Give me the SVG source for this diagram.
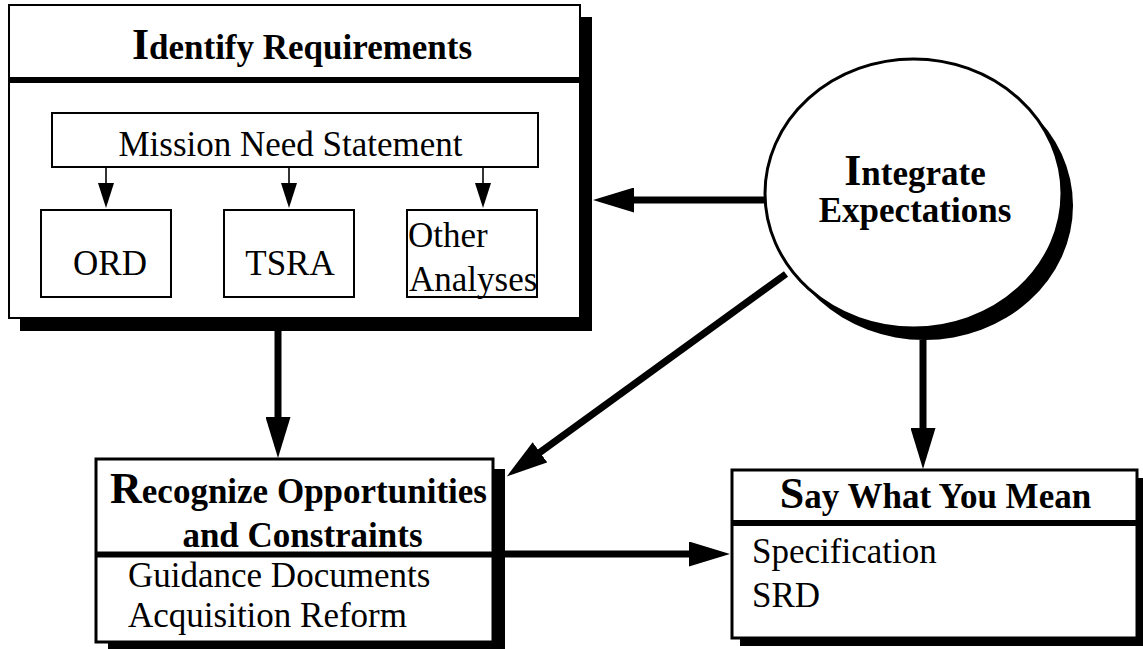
<svg xmlns="http://www.w3.org/2000/svg" width="1143" height="649" viewBox="0 0 1143 649">
<style>
.bg{fill:#fff}
.box{fill:#fff;stroke:#000}
.thin{stroke-width:2}
.thick{stroke-width:3}
.shadow{fill:#000}
.div{stroke:#000;stroke-width:6}
.t{font-family:"Liberation Serif","Times New Roman",serif;font-size:35px;fill:#000}
.b{font-weight:bold}
.big{font-size:44px}
.conn{stroke:#000;stroke-width:7;fill:none}
.small{stroke:#000;stroke-width:1.6;fill:none}
</style>
<defs>
<marker id="ah" markerUnits="userSpaceOnUse" markerWidth="42" markerHeight="25" viewBox="0 0 42 25" refX="1" refY="12.5" orient="auto">
<path d="M0,0 L41,12.5 L0,25 Z" fill="#000"/>
</marker>
<marker id="as" markerUnits="userSpaceOnUse" markerWidth="26" markerHeight="16" viewBox="0 0 26 16" refX="1" refY="8" orient="auto">
<path d="M0,0 L25,8 L0,16 Z" fill="#000"/>
</marker>
</defs>
<rect class="bg" x="0" y="0" width="1143" height="649"/>

<g id="identify">
<rect class="shadow" x="20" y="17" width="572" height="314"/>
<rect class="box thin" x="9" y="5" width="571" height="313"/>
<line class="div" x1="9" y1="80" x2="580" y2="80"/>
<text class="t b" x="302" y="59" text-anchor="middle"><tspan class="big">I</tspan>dentify Requirements</text>
</g>

<g id="mission">
<rect class="box thin" x="52" y="113" width="486" height="54"/>
<text class="t" x="290.5" y="156" text-anchor="middle">Mission Need Statement</text>
</g>

<g id="ord">
<rect class="box thin" x="41" y="210" width="130" height="87"/>
<text class="t" x="110" y="275" text-anchor="middle">ORD</text>
</g>

<g id="tsra">
<rect class="box thin" x="224" y="210" width="130" height="87"/>
<text class="t" x="290" y="275" text-anchor="middle">TSRA</text>
</g>

<g id="other">
<rect class="box thin" x="407" y="210" width="130" height="87"/>
<text class="t" x="408" y="247">Other</text>
<text class="t" x="409" y="291">Analyses</text>
</g>

<g id="integrate">
<ellipse class="shadow" cx="924.5" cy="205.5" rx="148.5" ry="134.5"/>
<ellipse class="box thick" cx="913.5" cy="193.5" rx="148.5" ry="134.5"/>
<text class="t b" x="915" y="185" text-anchor="middle"><tspan class="big">I</tspan>ntegrate</text>
<text class="t b" x="915" y="222" text-anchor="middle">Expectations</text>
</g>

<g id="recognize">
<rect class="shadow" x="108" y="469" width="397" height="190"/>
<rect class="box thick" x="96" y="459" width="397" height="183"/>
<line class="div" x1="96" y1="554.5" x2="493" y2="554.5"/>
<text class="t b" x="298.5" y="503" text-anchor="middle"><tspan class="big">R</tspan>ecognize Opportunities</text>
<text class="t b" x="302.5" y="547" text-anchor="middle">and Constraints</text>
<text class="t" x="128" y="587">Guidance Documents</text>
<text class="t" x="128" y="627">Acquisition Reform</text>
</g>

<g id="say">
<rect class="shadow" x="740" y="478" width="405" height="168"/>
<rect class="box thick" x="732" y="470" width="405" height="168"/>
<line class="div" x1="732" y1="523" x2="1137" y2="523"/>
<text class="t b" x="935.5" y="508" text-anchor="middle"><tspan class="big">S</tspan>ay What You Mean</text>
<text class="t" x="752" y="563">Specification</text>
<text class="t" x="752" y="607">SRD</text>
</g>

<g id="connectors">
<line class="small" x1="106" y1="167" x2="106" y2="184" marker-end="url(#as)"/>
<line class="small" x1="289" y1="167" x2="289" y2="184" marker-end="url(#as)"/>
<line class="small" x1="483" y1="167" x2="483" y2="184" marker-end="url(#as)"/>
<line class="conn" x1="765" y1="200" x2="633" y2="200" marker-end="url(#ah)"/>
<line class="conn" x1="278" y1="331" x2="278" y2="418" marker-end="url(#ah)"/>
<line class="conn" stroke-width="6" x1="786" y1="274" x2="539.2" y2="452.9" marker-end="url(#ah)"/>
<line class="conn" x1="923" y1="340" x2="923" y2="429" marker-end="url(#ah)"/>
<line class="conn" x1="505" y1="554" x2="690" y2="554" marker-end="url(#ah)"/>
</g>
</svg>
